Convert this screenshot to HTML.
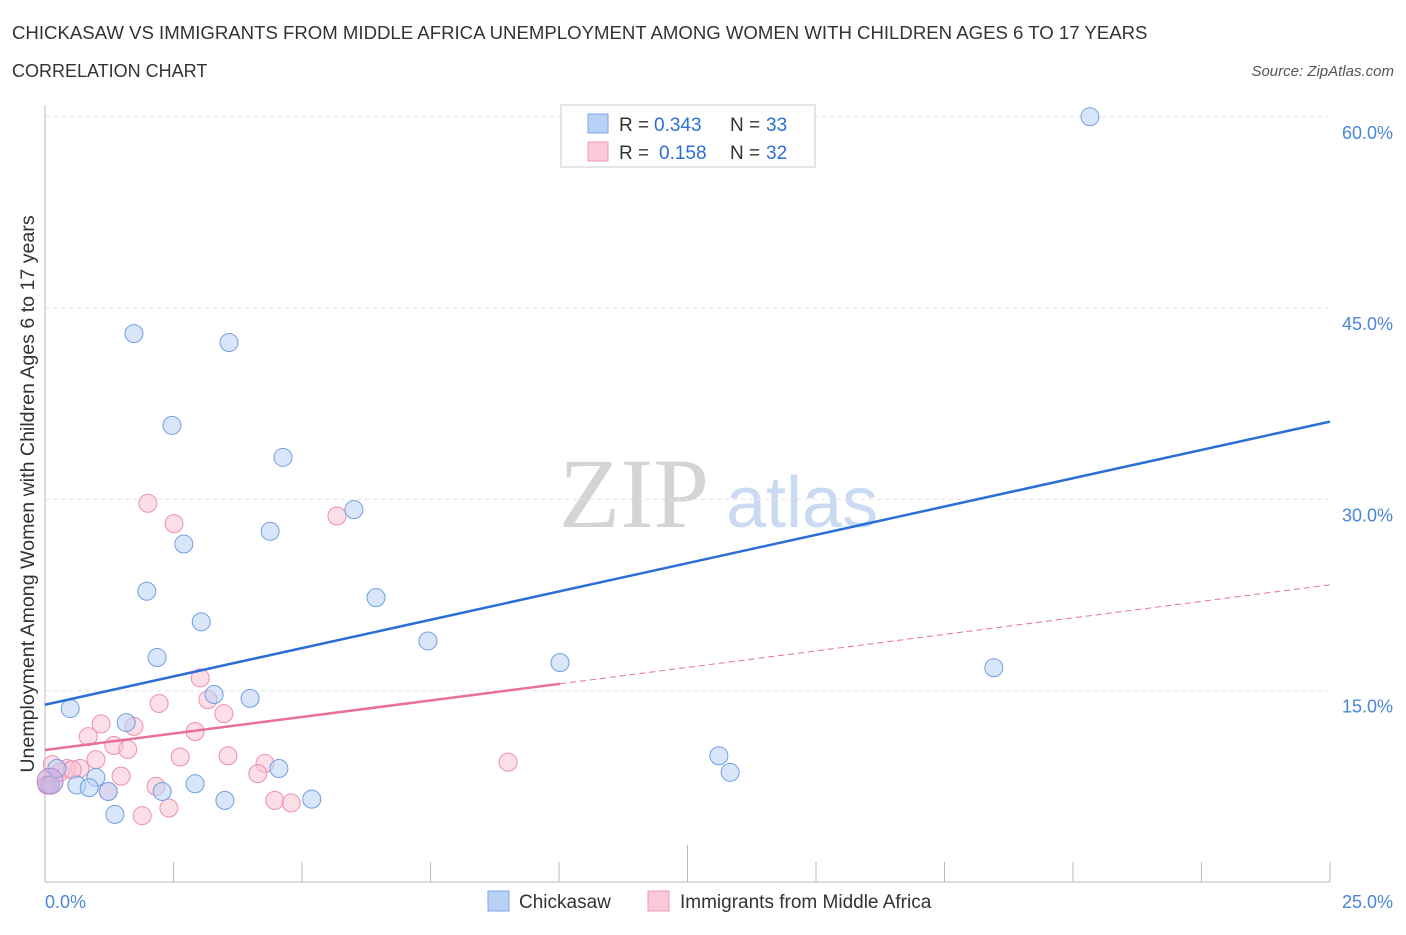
<!DOCTYPE html>
<html><head><meta charset="utf-8"><style>
body{margin:0;background:#fff;font-family:"Liberation Sans",sans-serif;}
svg text{font-family:"Liberation Sans",sans-serif;}
</style></head><body>
<svg id="c" width="1406" height="930">
<text x="12" y="39" font-size="18.6" fill="#333">CHICKASAW VS IMMIGRANTS FROM MIDDLE AFRICA UNEMPLOYMENT AMONG WOMEN WITH CHILDREN AGES 6 TO 17 YEARS</text>
<text x="12" y="77" font-size="18" fill="#333">CORRELATION CHART</text>
<text x="1394" y="76" font-size="15" fill="#555" font-style="italic" text-anchor="end">Source: ZipAtlas.com</text>
<text x="634" y="527" font-size="100" fill="#d4d4d4" style="font-family:'Liberation Serif',serif" text-anchor="middle">ZIP</text>
<text x="802" y="527" font-size="72" fill="#c9daf2" text-anchor="middle">atlas</text>
<text transform="translate(34,494) rotate(-90)" font-size="19.6" fill="#333" text-anchor="middle">Unemployment Among Women with Children Ages 6 to 17 years</text>
<g id="grid"></g><g id="marks"></g>
<g>
<rect x="561" y="105" width="254" height="62" fill="#fff" stroke="#ccc"/>
<rect x="588" y="114" width="20" height="19" fill="#b9d1f5" stroke="#7aa7e6"/>
<text x="619" y="131" font-size="19" fill="#333">R =</text>
<text x="654" y="131" font-size="19" fill="#2b6fd6">0.343</text>
<text x="730" y="131" font-size="19" fill="#333">N =</text>
<text x="766" y="131" font-size="19" fill="#2b6fd6">33</text>
<rect x="588" y="142" width="20" height="19" fill="#f9c9d8" stroke="#ee9ab5"/>
<text x="619" y="159" font-size="19" fill="#333">R =</text>
<text x="659" y="159" font-size="19" fill="#2b6fd6">0.158</text>
<text x="730" y="159" font-size="19" fill="#333">N =</text>
<text x="766" y="159" font-size="19" fill="#2b6fd6">32</text>
</g>
<g>
<rect x="488" y="891" width="21" height="20" fill="#b9d1f5" stroke="#7aa7e6"/>
<text x="519" y="908" font-size="19" fill="#333">Chickasaw</text>
<rect x="648" y="891" width="21" height="20" fill="#f9c9d8" stroke="#ee9ab5"/>
<text x="680" y="908" font-size="19" fill="#333">Immigrants from Middle Africa</text>
</g>
</svg>
<script>
const blueX=[20.33,1.73,3.58,2.47,4.63,6.01,2.70,4.38,1.98,6.44,3.04,7.45,2.18,10.02,18.46,3.29,3.99,0.49,1.58,13.11,13.33,4.55,0.99,0.23,0.62,0.86,1.23,2.28,2.92,3.50,5.19,1.36,0.1];
const blueY=[60.0,43.0,42.3,35.8,33.3,29.2,26.5,27.5,22.8,22.3,20.4,18.9,17.6,17.2,16.8,14.7,14.4,13.6,12.5,9.9,8.6,8.9,8.2,8.9,7.6,7.4,7.1,7.1,7.7,6.4,6.5,5.3,7.6];
const pinkX=[2.0,2.51,5.68,3.02,2.22,3.17,3.48,1.09,1.73,0.84,2.92,1.34,1.61,2.63,3.56,0.99,4.28,9.01,0.14,0.43,0.68,1.48,4.14,2.16,1.23,4.47,4.79,2.41,1.89,0.04,0.29,0.53];
const pinkY=[29.7,28.1,28.7,16.0,14.0,14.3,13.2,12.4,12.2,11.4,11.8,10.7,10.4,9.8,9.9,9.6,9.3,9.4,9.2,8.9,8.9,8.3,8.5,7.5,7.1,6.4,6.2,5.8,5.2,7.6,8.6,8.8];
const trendStart=[13.9,10.35], trendEnd=[36.1,23.3];
const yTicks=[15,30,45,60];
const xTickLabels=["0.0%","25.0%"];
const NS="http://www.w3.org/2000/svg";
const sx=v=>45+v/25*1285, sy=v=>882-v/15*191.3;
function mk(p,t,a){const e=document.createElementNS(NS,t);for(const k in a)e.setAttribute(k,a[k]);p.appendChild(e);return e;}
const g=document.getElementById('grid'),m=document.getElementById('marks');
yTicks.forEach(t=>{
 const l=mk(g,'line',{x1:45,x2:1330,y1:sy(t),y2:sy(t),stroke:'#e3e3e3','stroke-dasharray':'4,4'});
 
 
 const tx=mk(g,'text',{x:1393,y:sy(t)+22,'font-size':18,fill:'#4a86d9','text-anchor':'end'});tx.textContent=t.toFixed(1)+'%';
 
 
});
const ax=mk(g,'line',{x1:45,x2:1330,y1:882,y2:882,stroke:'#bbb'});


const ay=mk(g,'line',{x1:45,x2:45,y1:105,y2:882,stroke:'#bbb'});


for(let i=0;i<=10;i++){const x=sx(i*2.5);const tk=mk(g,'line',{x1:x,x2:x,y1:882,y2:(i==5?845:862),stroke:'#bbb'});
 
 }
[[0,45,'start'],[1,1393,'end']].forEach(([i,x,a])=>{const t=mk(g,'text',{x:x,y:908,'font-size':18,fill:'#4a86d9','text-anchor':a});t.textContent=xTickLabels[i];
 
 });
function pts(X,Y,f,s,name){X.forEach((x,i)=>{
 const c=mk(m,'circle',{cx:sx(x),cy:sy(Y[i]),r:9,fill:f,'fill-opacity':0.55,stroke:s,'stroke-width':1});
 
 });}
pts(pinkX,pinkY,'#f9c3d4','#ec8fb0','pink-point');
pts(blueX,blueY,'#b9d1f5','#6e9fe0','blue-point');
const big=mk(m,'circle',{cx:sx(0.1),cy:sy(7.9),r:13,fill:'#c9a5d8','fill-opacity':0.6,stroke:'#b08ac6'});


const bl=mk(m,'line',{x1:sx(0),y1:sy(trendStart[0]),x2:sx(25),y2:sy(trendEnd[0]),stroke:'#2b6fd6','stroke-width':2.5});


const pm=trendStart[1]+(trendEnd[1]-trendStart[1])*10.02/25;
const pl=mk(m,'line',{x1:sx(0),y1:sy(trendStart[1]),x2:sx(10.02),y2:sy(pm),stroke:'#e8709a','stroke-width':2.5});


const pd=mk(m,'line',{x1:sx(10.02),y1:sy(pm),x2:sx(25),y2:sy(trendEnd[1]),stroke:'#e8709a','stroke-width':1,'stroke-dasharray':'6,4'});


</script>
</body></html>
